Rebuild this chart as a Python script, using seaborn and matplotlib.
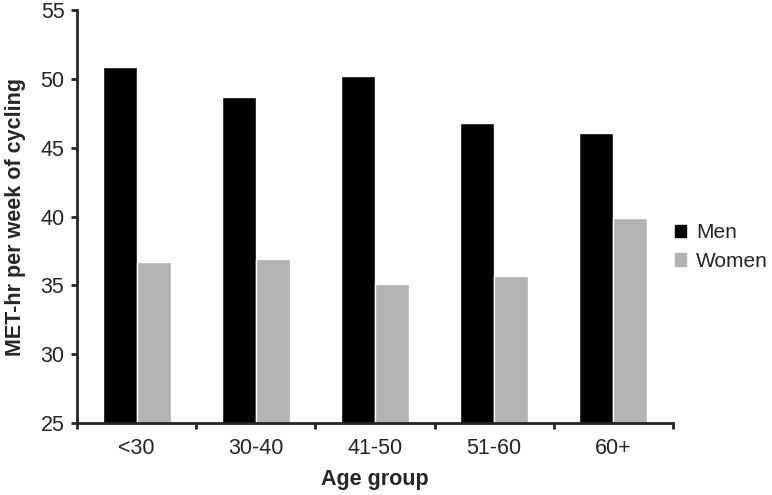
import pandas as pd
import matplotlib.pyplot as plt
import seaborn as sns
from matplotlib.patches import Patch

# Data
age_groups = ["<30", "30-40", "41-50", "51-60", "60+"]
men = [50.9, 48.7, 50.2, 46.8, 46.1]
women = [36.7, 36.9, 35.1, 35.7, 39.9]

df = pd.DataFrame({
    "Age group": age_groups * 2,
    "MET": men + women,
    "Sex": ["Men"] * len(men) + ["Women"] * len(women),
})

sns.set_style("ticks")
plt.rcParams["font.family"] = ["Liberation Sans", "DejaVu Sans"]

fig = plt.figure(figsize=(7.72, 4.95), dpi=100)
ax = fig.add_axes([0.0997, 0.1455, 0.772, 0.834])

colors = {"Men": "#000000", "Women": "#b3b3b3"}
sns.barplot(data=df, x="Age group", y="MET", hue="Sex", palette=colors,
            width=0.57, saturation=1, ax=ax, legend=False)

ax.set_ylim(25, 55)
ax.set_yticks(range(25, 56, 5))
ax.set_xlim(-0.5, len(age_groups) - 0.5)

# tick marks sit between categories, labels at centres
ax.set_xticks([i + 0.5 for i in range(-1, len(age_groups))], minor=True)
ax.tick_params(axis="x", which="major", length=0, labelsize=15.5, pad=11)
ax.tick_params(axis="x", which="minor", length=4, width=2, direction="out")
ax.tick_params(axis="y", length=4, width=2, labelsize=15.5, pad=5, direction="out")

for side in ["left", "bottom"]:
    ax.spines[side].set_linewidth(2)
sns.despine(ax=ax)

ax.set_xlabel("Age group", fontsize=15.5, fontweight="bold", labelpad=7)
ax.set_ylabel("MET-hr per week of cycling", fontsize=15.5, fontweight="bold", labelpad=10)

handles = [Patch(color=colors["Men"], label="Men"),
           Patch(color=colors["Women"], label="Women")]
ax.legend(handles=handles, loc="center left", bbox_to_anchor=(1.0, 0.426),
          frameon=False, fontsize=15, handlelength=0.55, handleheight=0.55,
          handletextpad=0.45, labelspacing=0.45, borderaxespad=0.1,
          borderpad=0)

fig.savefig("out.png", dpi=100)
